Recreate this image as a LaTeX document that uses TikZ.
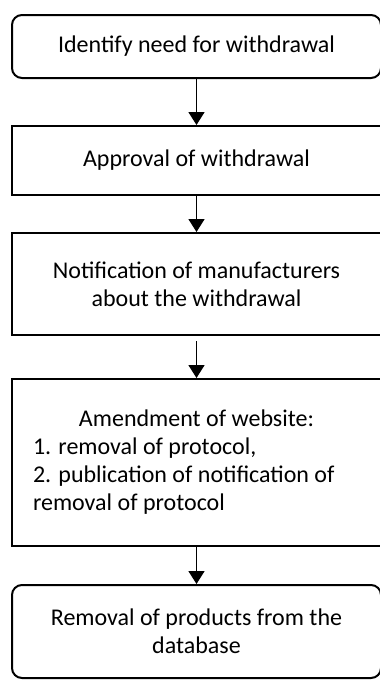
\documentclass[tikz,border=0pt]{standalone}
\usepackage{fontspec}
\setmainfont{Carlito}
\usetikzlibrary{arrows.meta}

\tikzset{
  stepbox/.style={draw, line width=2pt, minimum width=369pt, inner sep=0pt,
    align=center, font=\fontsize{24}{28}\selectfont},
  endbox/.style={stepbox, rounded corners=10pt},
  flow/.style={-{Triangle[width=16pt,length=13pt]}, line width=1.6pt}
}

\begin{document}
\begin{tikzpicture}[x=1pt, y=-1pt]

    \useasboundingbox (0,0) rectangle (380,681);

    %coordinates
    \coordinate (C1) at (196.5,46.5); %start
    \coordinate (C2) at (196.5,160.5); %approval
    \coordinate (C3) at (196.5,284); %manufacturers
    \coordinate (C4) at (196.5,462.5); %website
    \coordinate (C5) at (196.5,631.5); %end

    %steps
    \node[endbox, minimum height=63pt] (identify) at (C1) {Identify need for withdrawal};
    \node[stepbox, minimum height=69pt] (approval) at (C2) {Approval of withdrawal};
    \node[stepbox, minimum height=102pt] (notify) at (C3)
    {Notification of manufacturers \\ about the withdrawal};
    \node[stepbox, minimum height=167pt, text width=327pt, align=flush left] (amend) at (C4)
    {\makebox[327pt]{Amendment of website:} \\ 1. removal of protocol, \\
    2. publication of notification of \\ removal of protocol};
    \node[endbox, minimum height=93pt] (removal) at (C5)
    {Removal of products from the \\ database};

    %arrows
    \foreach \a/\b/\s in {identify/approval/0,approval/notify/0,notify/amend/5,amend/removal/0}
    \draw[flow, shorten <=\s pt] (\a.south) -- (\b.north);

\end{tikzpicture}
\end{document}
